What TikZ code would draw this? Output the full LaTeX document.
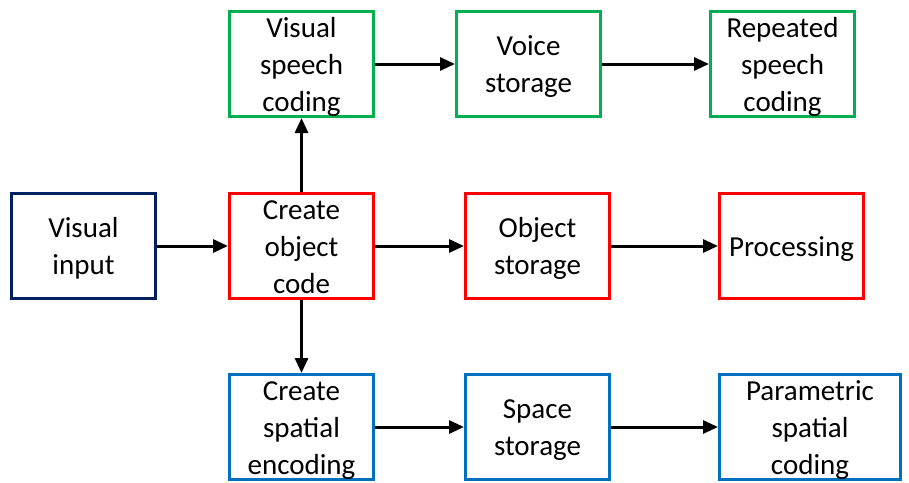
\documentclass[tikz,border=0pt]{standalone}
\usepackage{fontspec}
\setmainfont{Carlito}
\definecolor{NavyBlue}{HTML}{002060}
\definecolor{BoxRed}{HTML}{FF0000}
\definecolor{BoxGreen}{HTML}{00B050}
\definecolor{BoxBlue}{HTML}{0070C0}
\usetikzlibrary{arrows.meta,positioning}
\def\bw{144pt}

\begin{document}
\begin{tikzpicture}
[block/.style={font=\fontsize{29}{37}\selectfont,rectangle,align=center,
   line width=3pt,minimum width=\bw,text width=\bw,minimum height=105pt,
   inner sep=0pt,text=black,fill=white,
   execute at begin node={\rule{0pt}{25pt}},
   execute at end node={\rule[-5pt]{0pt}{5pt}}},
   flow/.style={line width=3pt,-{Triangle[length=15pt,width=13pt]}}]
\useasboundingbox (0,0) rectangle (909pt,-482pt);
\node[block,draw=NavyBlue] (visin) at (83.5pt,-246pt) {Visual\\input};
\node[block,draw=BoxRed,right=71pt of visin] (objcode) {Create\\object\\code};
\node[block,draw=BoxRed,right=89pt of objcode] (objstore) {Object\\storage};
\node[block,draw=BoxRed,right=107pt of objstore] (proc) {Processing};
%% speech row
\node[block,draw=BoxGreen,above=74pt of objcode] (speech) {Visual\\speech\\coding};
\node[block,draw=BoxGreen,right=80pt of speech] (voice) {Voice\\storage};
\node[block,draw=BoxGreen,right=107pt of voice] (repeat) {Repeated\\speech\\coding};
%% spatial row
\node[block,draw=BoxBlue,below=73pt of objcode] (spatial) {Create\\spatial\\encoding};
\node[block,draw=BoxBlue,right=89pt of spatial] (spacest) {Space\\storage};
\node[block,draw=BoxBlue,right=107pt of spacest,minimum width=181pt,
   text width=181pt] (param) {Parametric\\spatial\\coding};
\draw[flow] (visin) -- (objcode);
\draw[flow] (objcode) -- (objstore);
\draw[flow] (objstore) -- (proc);
\draw[flow] (objcode) -- (speech);
\draw[flow] (objcode) -- (spatial);
\draw[flow] (speech) -- (voice);
\draw[flow] (voice) -- (repeat);
\draw[flow] (spatial) -- (spacest);
\draw[flow] (spacest) -- (param);
%%
\end{tikzpicture}
\end{document}
